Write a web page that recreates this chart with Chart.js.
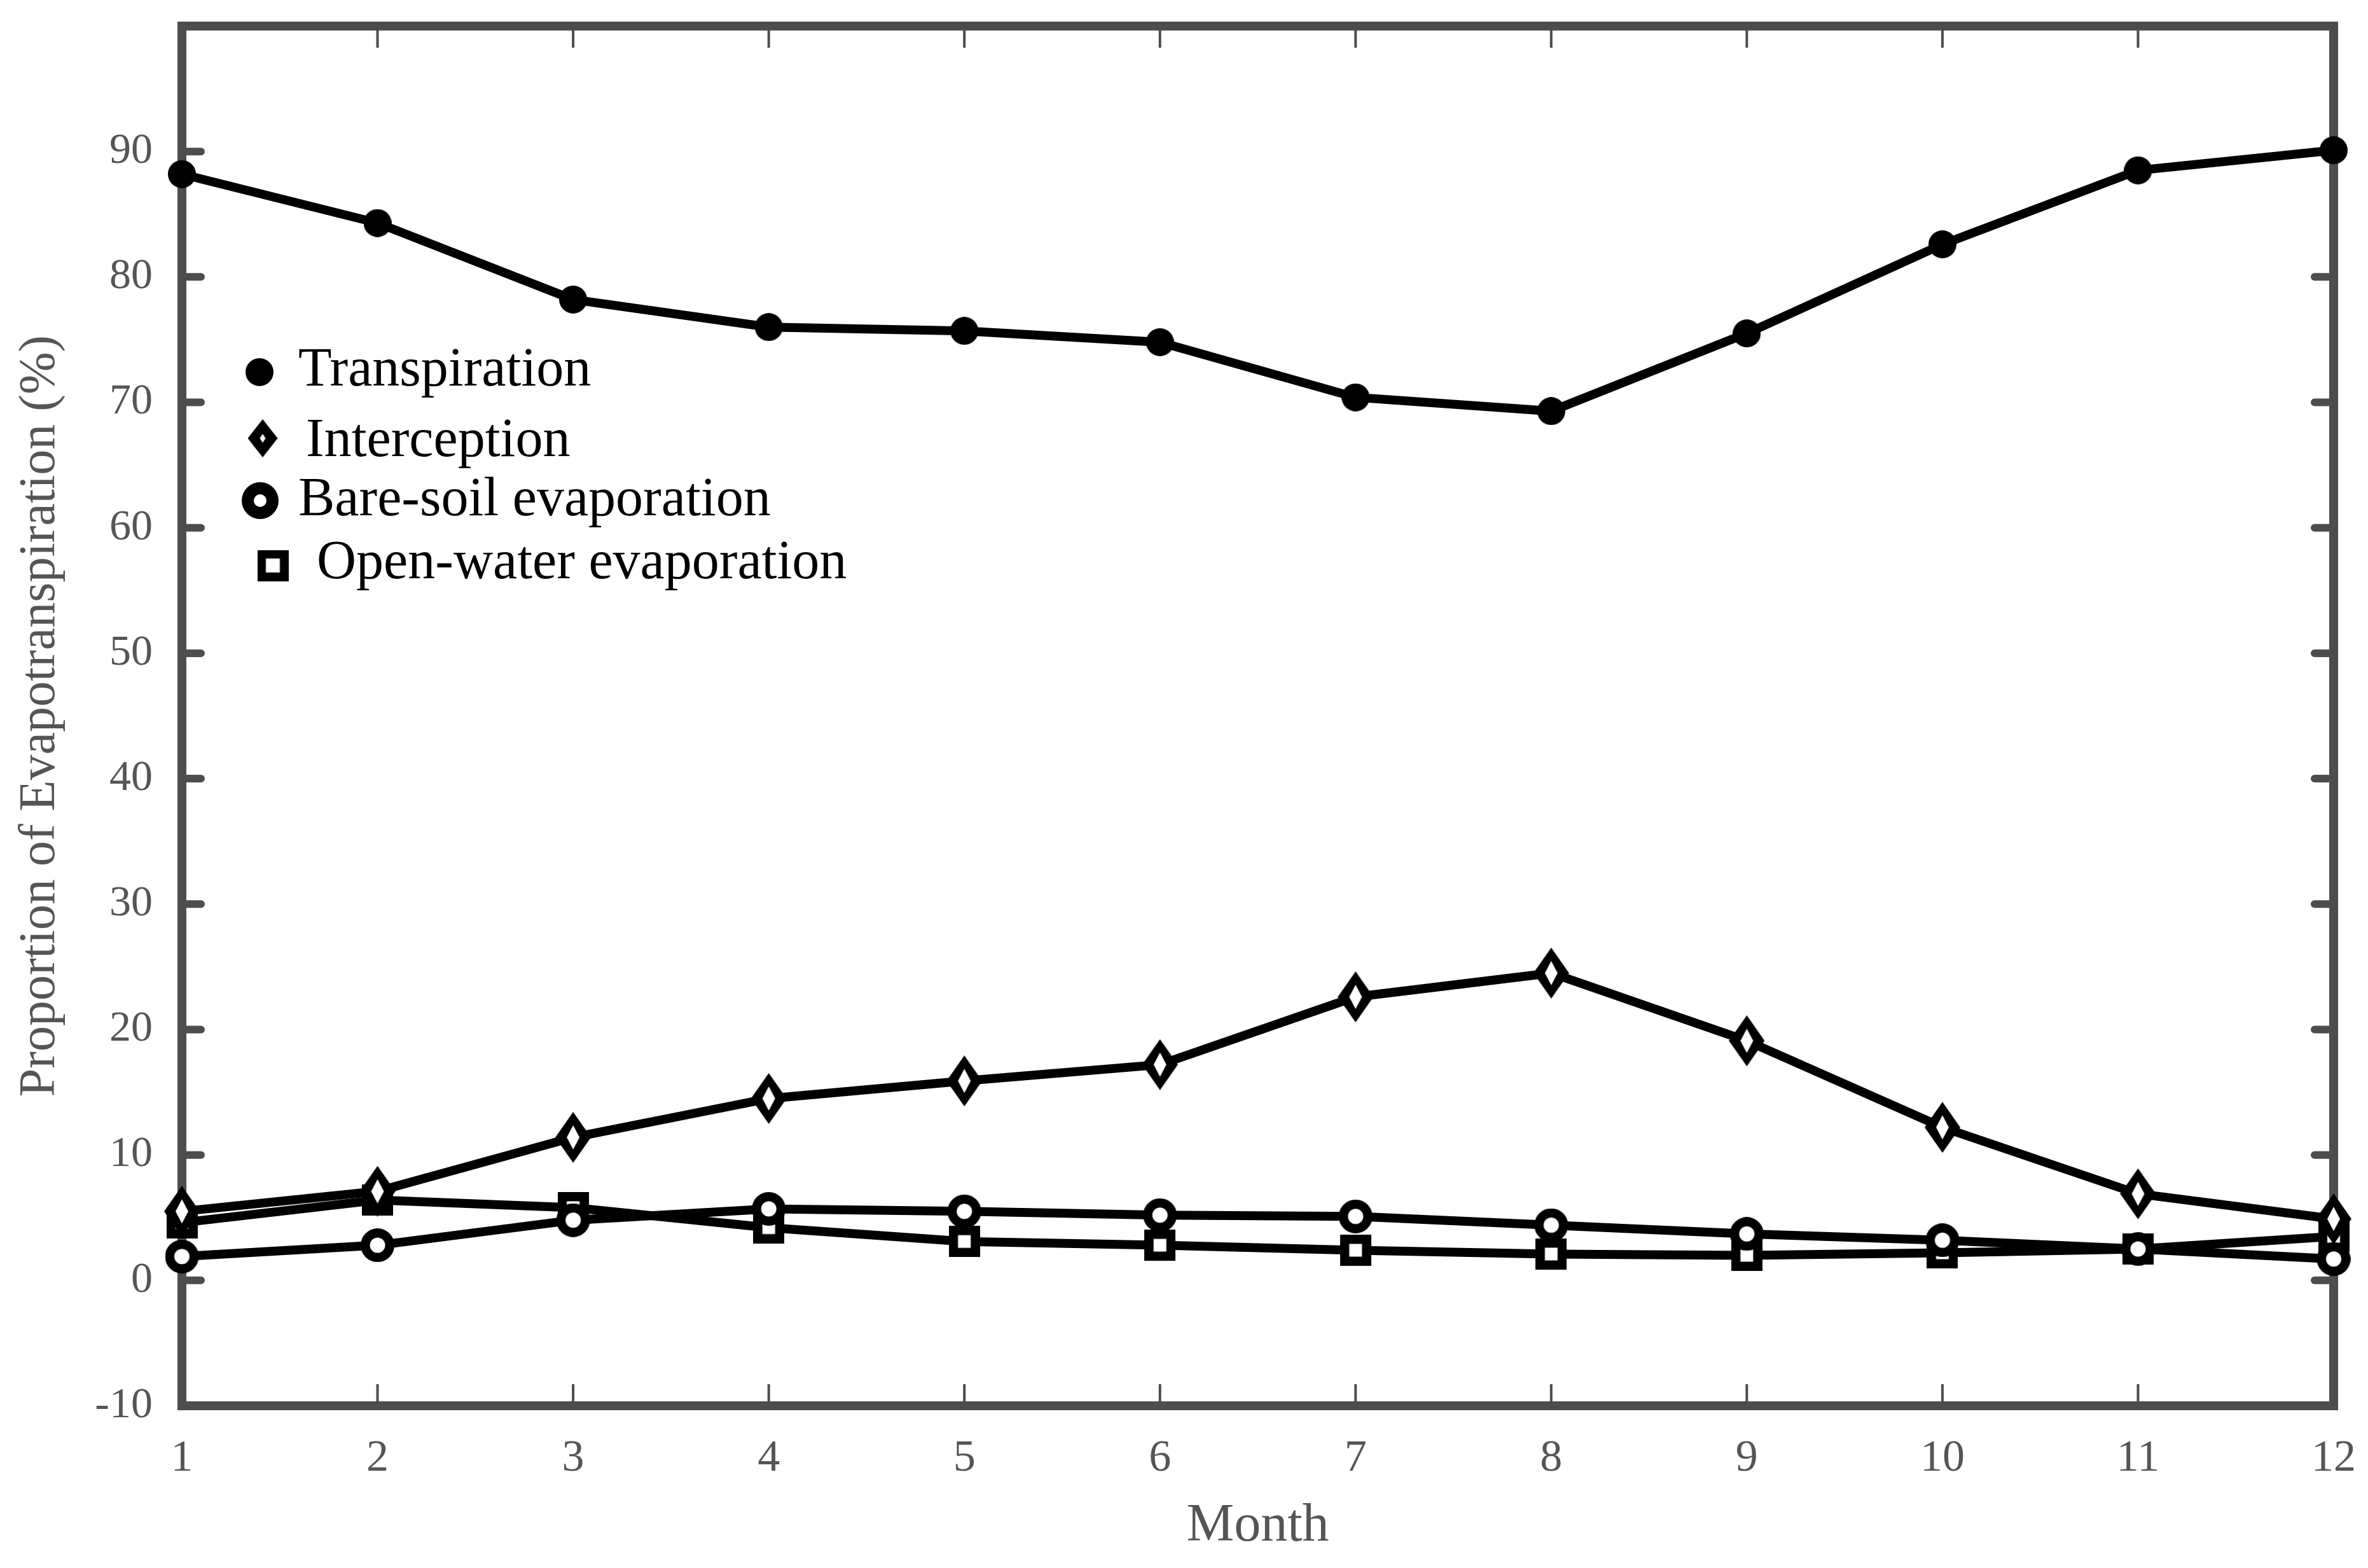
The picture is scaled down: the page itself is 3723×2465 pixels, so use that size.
<!DOCTYPE html>
<html><head><meta charset="utf-8">
<script src="https://cdn.jsdelivr.net/npm/chart.js@4.4.0/dist/chart.umd.min.js"></script>
<style>html,body{margin:0;padding:0;background:#fff;}canvas{display:block;}</style>
</head><body>
<canvas id="c" width="3723" height="2465"></canvas>
<script>
// ---- data ----
const months = [1,2,3,4,5,6,7,8,9,10,11,12];
const transpiration = [88.2, 84.3, 78.2, 76.0, 75.7, 74.8, 70.4, 69.3, 75.5, 82.6, 88.5, 90.1];
const interception  = [5.5, 7.1, 11.4, 14.5, 15.9, 17.2, 22.6, 24.5, 19.1, 12.2, 6.9, 4.9];
const bareSoil      = [1.9, 2.8, 4.8, 5.7, 5.5, 5.2, 5.1, 4.4, 3.7, 3.2, 2.5, 1.7];
const openWater     = [4.6, 6.4, 5.8, 4.2, 3.1, 2.8, 2.4, 2.1, 2.0, 2.2, 2.5, 3.5];
const seriesNames = ['Transpiration','Interception','Bare-soil evaporation','Open-water evaporation'];
const yTicks = [-10,0,10,20,30,40,50,60,70,80,90];
const xTitle = 'Month';
const yTitle = 'Proportion of Evapotranspiration (%)';

// ---- marker images ----
function mk(w,h,draw){const c=document.createElement('canvas');c.width=w;c.height=h;draw(c.getContext('2d'),w,h);return c;}
function diamond(g,cx,cy,hw,hh){g.beginPath();g.moveTo(cx,cy-hh);g.lineTo(cx+hw,cy);g.lineTo(cx,cy+hh);g.lineTo(cx-hw,cy);g.closePath();g.fill();}
function disc(g,cx,cy,r){g.beginPath();g.arc(cx,cy,r,0,Math.PI*2);g.fill();}
function makeDot(d){return mk(d,d,g=>{g.fillStyle='#000';disc(g,d/2,d/2,d/2);});}
function makeDiamond(w,h,iw,ih){return mk(w,h,g=>{g.fillStyle='#000';diamond(g,w/2,h/2,w/2,h/2);g.fillStyle='#fff';diamond(g,w/2,h/2,iw/2,ih/2);});}
function makeRing(d,id){return mk(d,d,g=>{g.fillStyle='#000';disc(g,d/2,d/2,d/2);g.fillStyle='#fff';disc(g,d/2,d/2,id/2);});}
function makeSquare(s,is){return mk(s,s,g=>{g.fillStyle='#000';g.fillRect(0,0,s,s);g.fillStyle='#fff';g.fillRect((s-is)/2,(s-is)/2,is,is);});}

const markerImgs = [makeDot(44), makeDiamond(56,80,20,38), makeRing(53,24), makeSquare(49,20)];
const legendImgs = [makeDot(44), makeDiamond(47,60,9,14), makeRing(58,20), makeSquare(49,22)];

const FONT = 'Liberation Serif';
const AX = '#4d4d4d';

const framePlugin = {
  id:'frame',
  beforeDatasetsDraw(chart){
    const {ctx, chartArea:a, scales:{x,y}} = chart;
    ctx.save();
    ctx.strokeStyle = AX;
    ctx.lineWidth = 4; ctx.lineCap = 'butt';
    months.slice(1,-1).forEach(m=>{
      const px = x.getPixelForValue(m);
      ctx.beginPath();
      ctx.moveTo(px,a.top); ctx.lineTo(px,a.top+34);
      ctx.moveTo(px,a.bottom); ctx.lineTo(px,a.bottom-34);
      ctx.stroke();
    });
    ctx.lineWidth = 12; ctx.lineCap = 'round';
    yTicks.slice(1).forEach(v=>{
      const py = y.getPixelForValue(v);
      ctx.beginPath();
      ctx.moveTo(a.left,py); ctx.lineTo(a.left+30,py);
      ctx.moveTo(a.right,py); ctx.lineTo(a.right-30,py);
      ctx.stroke();
    });
    ctx.lineWidth = 14; ctx.lineCap = 'butt'; ctx.lineJoin='miter';
    ctx.strokeRect(a.left,a.top,a.right-a.left,a.bottom-a.top);
    ctx.restore();
  }
};

const legendLayout = [
  {mx:408, my:585, tx:469, ty:606},
  {mx:413, my:689, tx:481, ty:717},
  {mx:409, my:787, tx:469, ty:810},
  {mx:429, my:889, tx:498, ty:909}
];
const legendPlugin = {
  id:'insideLegend',
  afterDatasetsDraw(chart){
    const ctx = chart.ctx;
    ctx.save();
    ctx.fillStyle = '#000';
    ctx.font = '86px "' + FONT + '"';
    ctx.textBaseline = 'alphabetic';
    ctx.textAlign = 'left';
    chart.data.datasets.forEach((ds,i)=>{
      const L = legendLayout[i], img = legendImgs[i];
      ctx.drawImage(img, L.mx - img.width/2, L.my - img.height/2);
      ctx.fillText(ds.label, L.tx, L.ty);
    });
    ctx.restore();
  }
};

function zeroPad(s){ s.paddingTop = 0; s.paddingBottom = 0; s.paddingLeft = 0; s.paddingRight = 0; }

const series = [transpiration, interception, bareSoil, openWater];
const datasets = series.map((vals,i)=>({
  label: seriesNames[i],
  data: months.map((m,j)=>({x:m, y:vals[j]})),
  borderColor:'#000',
  backgroundColor:'#000',
  borderWidth:14,
  pointStyle: markerImgs[i],
  pointRadius: 22,
  tension:0,
  clip:false
}));

new Chart(document.getElementById('c'), {
  type:'line',
  data:{datasets},
  options:{
    responsive:false,
    animation:false,
    devicePixelRatio:1,
    layout:{padding:{top:41, right:54, left:0, bottom:0}},
    plugins:{legend:{display:false}, tooltip:{enabled:false}},
    scales:{
      x:{
        type:'linear', min:1, max:12,
        afterBuildTicks: s => { s.ticks = months.map(v=>({value:v})); },
        ticks:{font:{family:FONT,size:70}, color:'#555', padding:42, maxRotation:0},
        grid:{display:false, drawTicks:false},
        border:{display:false},
        title:{display:true, text:xTitle, font:{family:FONT,size:84}, color:'#555', padding:{top:0,bottom:15}},
        afterFit: s => { s.height = 255; zeroPad(s); }
      },
      y:{
        type:'linear', min:-10, max:100,
        afterBuildTicks: s => { s.ticks = yTicks.map(v=>({value:v})); },
        ticks:{font:{family:FONT,size:68}, color:'#555', padding:46},
        grid:{display:false, drawTicks:false},
        border:{display:false},
        title:{display:true, text:yTitle, font:{family:FONT,size:80}, color:'#555', padding:{top:16,bottom:0}},
        afterFit: s => { s.width = 286; zeroPad(s); }
      }
    }
  },
  plugins:[framePlugin, legendPlugin]
});
</script>
</body></html>
